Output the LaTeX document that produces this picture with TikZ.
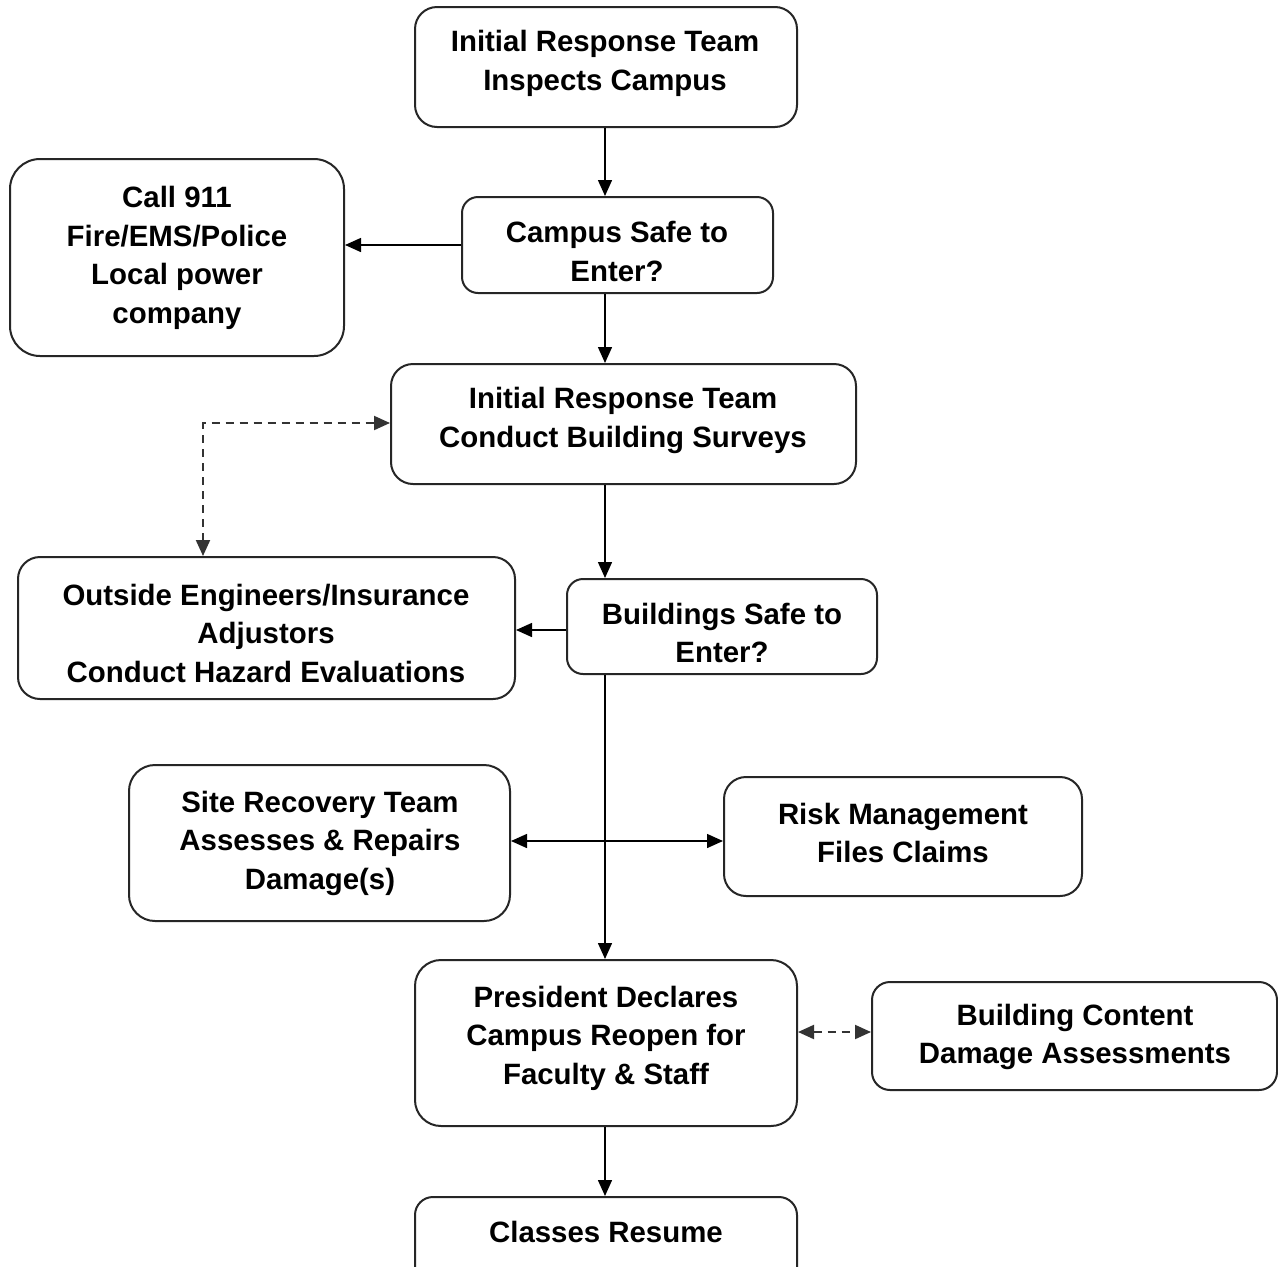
\documentclass[tikz,border=0pt]{standalone}
\usepackage{fontspec}
\setmainfont{Liberation Sans}
\usetikzlibrary{arrows.meta}
\begin{document}
\begin{tikzpicture}[x=1pt,y=-1pt,
  box/.style={draw=black!85, line width=2pt, rounded corners=22pt, inner sep=0pt},
  txt/.style={align=center, inner sep=0pt, font=\fontsize{29.4}{38.5}\selectfont\bfseries},
  flow/.style={line width=1.5pt, -{Triangle[length=16pt,width=14pt]}},
  both/.style={line width=1.5pt, {Triangle[length=16pt,width=14pt]}-{Triangle[length=16pt,width=14pt]}},
  dashboth/.style={line width=2pt, draw=black!80, dash pattern=on 8pt off 6pt,
    {Triangle[length=16pt,width=14pt]}-{Triangle[length=16pt,width=14pt]}}]
\useasboundingbox (0,0) rectangle (1278,1267);
\fill[white] (0,0) rectangle (1278,1267);

% boxes
\node[box, minimum width=382pt, minimum height=120pt] (n1) at (606,67) {};
\node[box, minimum width=311pt, minimum height=96pt, rounded corners=16pt] (n2) at (617.5,245) {};
\node[box, minimum width=334pt, minimum height=197pt, rounded corners=30pt] (n3) at (177,257.5) {};
\node[box, minimum width=465pt, minimum height=120pt] (n4) at (623.5,424) {};
\node[box, minimum width=497pt, minimum height=142pt] (n5) at (266.5,628) {};
\node[box, minimum width=310pt, minimum height=95pt, rounded corners=16pt] (n6) at (722,626.5) {};
\node[box, minimum width=381pt, minimum height=156pt, rounded corners=26pt] (n7) at (319.5,843) {};
\node[box, minimum width=358pt, minimum height=119pt] (n8) at (903,836.5) {};
\node[box, minimum width=382pt, minimum height=166pt, rounded corners=26pt] (n9) at (606,1043) {};
\node[box, minimum width=405pt, minimum height=108pt, rounded corners=18pt] (n10) at (1074.5,1036) {};
\node[box, minimum width=382pt, minimum height=103pt, rounded corners=18pt] (n11) at (606,1248.5) {};

% labels
\node[txt] (t1) at (605,63.5) {Initial Response Team\\Inspects Campus};
\node[txt] (t2) at (617,251.5) {Campus Safe to\\Enter?};
\node[txt] (t3) at (177,258) {Call 911\\Fire/EMS/Police\\Local power\\company};
\node[txt] (t4) at (623,420.5) {Initial Response Team\\Conduct Building Surveys};
\node[txt] (t5) at (266,633) {Outside Engineers/Insurance\\Adjustors\\Conduct Hazard Evaluations};
\node[txt] (t6) at (722,633) {Buildings Safe to\\Enter?};
\node[txt] (t7) at (320,843) {Site Recovery Team\\Assesses \& Repairs\\Damage(s)};
\node[txt] (t8) at (903,833) {Risk Management\\Files Claims};
\node[txt] (t9) at (606,1038) {President Declares\\Campus Reopen for\\Faculty \& Staff};
\node[txt] (t10) at (1075,1037) {Building Content\\Damage Assessments};
\node[txt] (t11) at (606,1232) {Classes Resume};

% connectors
\coordinate (spine) at (605,0);
\coordinate (dk) at (203,423);
\coordinate (hx) at (605,841);
\coordinate (dx) at (835,1032);

\draw[flow] (n1.south -| spine) -- (spine |- n2.north);
\draw[flow] (n2.west) -- (n3.east |- n2.west);
\draw[flow] (n2.south -| spine) -- (spine |- n4.north);
\draw[dashboth] (n5.north -| dk) -- (dk) -- (dk -| n4.west);
\draw[flow] (n4.south -| spine) -- (spine |- n6.north);
\draw[flow] (n6.west |- 0,630) -- (n5.east |- 0,630);
\draw[flow] (n6.south -| spine) -- (spine |- n9.north);
\draw[both] (n7.east |- hx) -- (n8.west |- hx);
\draw[dashboth] (n9.east |- dx) -- (n10.west |- dx);
\draw[flow] (n9.south -| spine) -- (spine |- n11.north);
\end{tikzpicture}
\end{document}
